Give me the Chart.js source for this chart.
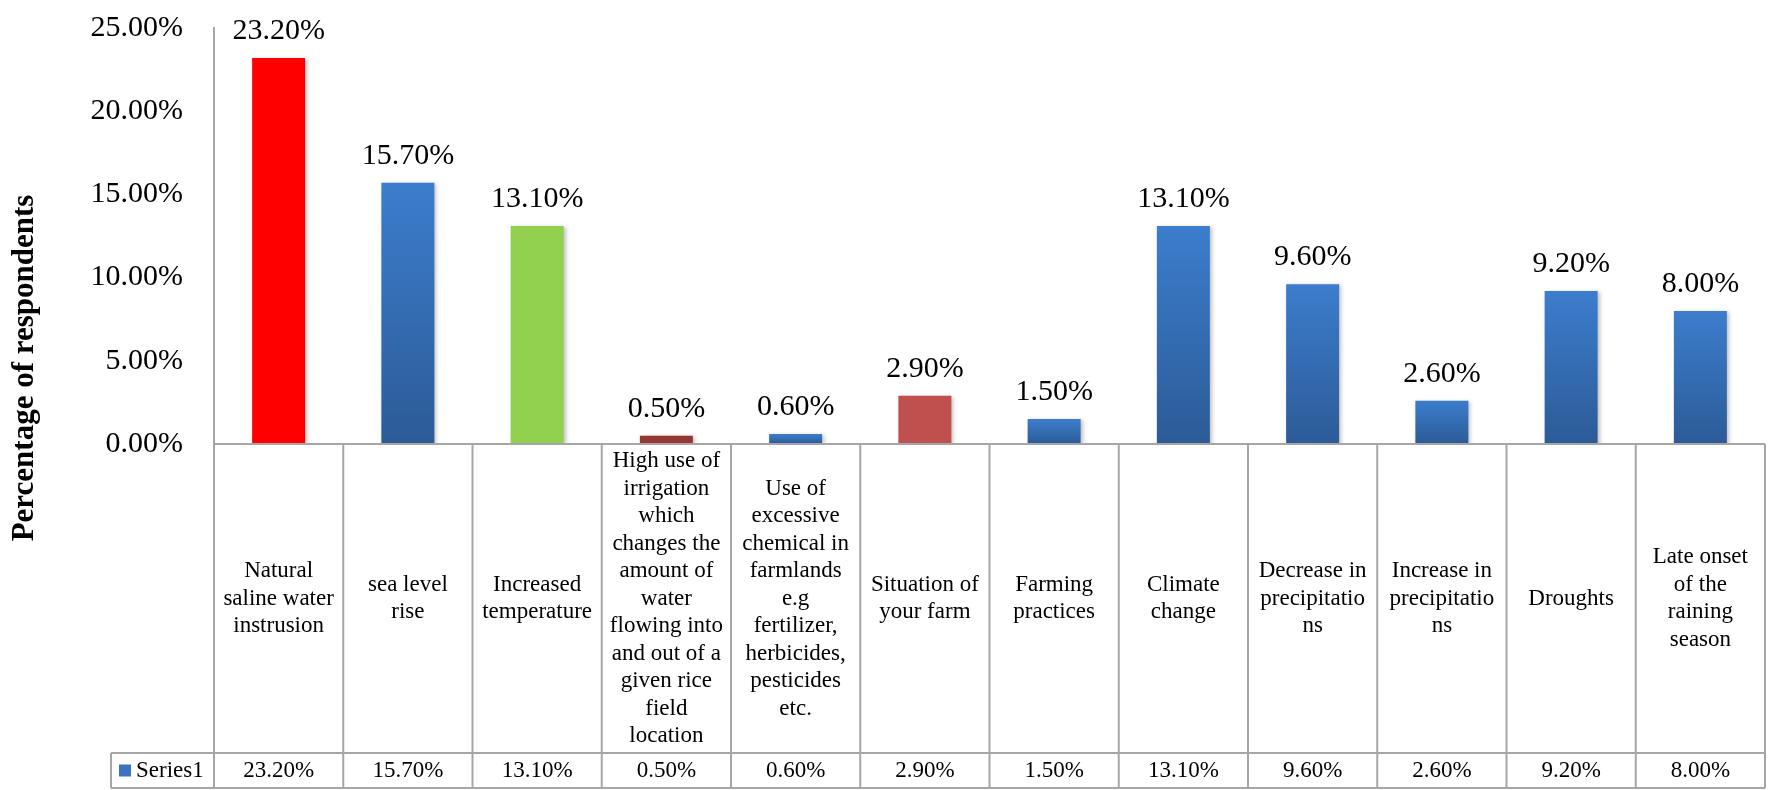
<!DOCTYPE html>
<html>
<head>
<meta charset="utf-8">
<script src="https://cdn.jsdelivr.net/npm/chart.js@4.4.1/dist/chart.umd.min.js"></script>
<style>
  html, body { margin: 0; padding: 0; background: #fff; }
  #wrap { width: 1768px; height: 790px; }
</style>
</head>
<body>
<div id="wrap"><canvas id="chart" width="1768" height="790"></canvas></div>
<script>
// categories, already broken into the lines shown in the table
const categories = [
    ["Natural", "saline water", "instrusion"],
    ["sea level", "rise"],
    ["Increased", "temperature"],
    ["High use of", "irrigation", "which", "changes the", "amount of", "water", "flowing into", "and out of a", "given rice", "field", "location"],
    ["Use of", "excessive", "chemical in", "farmlands", "e.g", "fertilizer,", "herbicides,", "pesticides", "etc."],
    ["Situation of", "your farm"],
    ["Farming", "practices"],
    ["Climate", "change"],
    ["Decrease in", "precipitatio", "ns"],
    ["Increase in", "precipitatio", "ns"],
    ["Droughts"],
    ["Late onset", "of the", "raining", "season"]
];
const values = [23.2, 15.7, 13.1, 0.5, 0.6, 2.9, 1.5, 13.1, 9.6, 2.6, 9.2, 8.0];
const yTicks = [0, 5, 10, 15, 20, 25];
const seriesName = "Series1";
const yTitle = "Percentage of respondents";

// bar fills ("blue" = Excel style gradient)
const barColors = ["#ff0000", "blue", "#92d050", "#953735", "blue", "#c0504d",
    "blue", "blue", "blue", "blue", "blue", "blue"];

const FONT = '"Liberation Serif", "Times New Roman", serif';
const LINE = "#a6a6a6";

function pct(v) {
    return v.toFixed(2) + "%";
}

function barFill(ctx) {
    const c = barColors[ctx.dataIndex];
    if (c !== "blue") return c;
    const chart = ctx.chart;
    const y = chart.scales.y;
    if (!chart.chartArea || !y) return "#3670b8";
    const top = y.getPixelForValue(values[ctx.dataIndex]);
    const bottom = y.getPixelForValue(0);
    const g = chart.ctx.createLinearGradient(0, top, 0, bottom);
    g.addColorStop(0, "#3c7dcd");
    g.addColorStop(1, "#2c5b97");
    return g;
}

// drop shadow on the bars
const shadowPlugin = {
    id: "shadow",
    beforeDatasetsDraw(chart) {
        const c = chart.ctx;
        c.save();
        c.shadowColor = "rgba(0,0,0,0.25)";
        c.shadowBlur = 4;
        c.shadowOffsetX = 2;
        c.shadowOffsetY = 1;
    },
    afterDatasetsDraw(chart) {
        chart.ctx.restore();
    }
};

// value labels above bars, axis title and the data table under the plot
const tablePlugin = {
    id: "table",
    afterDraw(chart) {
        const c = chart.ctx;
        const x = chart.scales.x;
        const y = chart.scales.y;
        const area = chart.chartArea;
        const colW = x.getPixelForValue(1) - x.getPixelForValue(0);
        const rowTop = 753, rowBottom = 788, legendLeft = 111;

        c.save();
        c.fillStyle = "#000";
        c.textAlign = "center";
        c.textBaseline = "middle";

        // axis title
        c.save();
        c.translate(25, 368);
        c.rotate(-Math.PI / 2);
        c.font = "bold 31px " + FONT;
        c.fillText(yTitle, 0, 0);
        c.restore();

        // labels above bars
        c.font = "30px " + FONT;
        values.forEach((v, i) => {
            c.fillText(pct(v), x.getPixelForValue(i), y.getPixelForValue(v) - 27);
        });

        // grid of the table
        c.strokeStyle = LINE;
        c.lineWidth = 2;
        c.beginPath();
        c.moveTo(area.left, area.bottom);
        c.lineTo(area.right, area.bottom);
        c.moveTo(legendLeft, rowTop);
        c.lineTo(area.right, rowTop);
        c.moveTo(legendLeft, rowBottom);
        c.lineTo(area.right, rowBottom);
        c.moveTo(legendLeft, rowTop);
        c.lineTo(legendLeft, rowBottom);
        for (let i = 0; i <= categories.length; i++) {
            const bx = x.getPixelForValue(i) - colW / 2;
            c.moveTo(bx, area.bottom);
            c.lineTo(bx, rowBottom);
        }
        c.stroke();

        // category text
        c.font = "23px " + FONT;
        const mid = (area.bottom + rowTop) / 2;
        const lh = 27.5;
        categories.forEach((lines, i) => {
            const cx = x.getPixelForValue(i);
            const start = mid - (lines.length - 1) * lh / 2;
            lines.forEach((t, j) => c.fillText(t, cx, start + j * lh));
        });

        // value row
        const rowMid = (rowTop + rowBottom) / 2;
        values.forEach((v, i) => c.fillText(pct(v), x.getPixelForValue(i), rowMid));

        // series key
        c.fillStyle = "#3a74c0";
        c.fillRect(119, rowMid - 6, 12, 12);
        c.fillStyle = "#000";
        c.textAlign = "left";
        c.fillText(seriesName, 136, rowMid);
        c.restore();
    }
};

new Chart(document.getElementById("chart"), {
    type: "bar",
    data: {
        labels: categories.map(l => l.join(" ")),
        datasets: [{
            label: seriesName,
            data: values,
            backgroundColor: barFill,
            borderWidth: 0,
            categoryPercentage: 1,
            barPercentage: 0.41
        }]
    },
    options: {
        responsive: false,
        animation: false,
        layout: { padding: { left: 0, top: 28, right: 3, bottom: 346 } },
        plugins: {
            legend: { display: false },
            tooltip: { enabled: false }
        },
        scales: {
            x: { display: false },
            y: {
                min: 0,
                max: 25,
                afterBuildTicks: s => { s.ticks = yTicks.map(v => ({ value: v })); },
                afterFit: s => { s.width = 214; },
                // invisible tick marks only push the labels away from the axis
                grid: {
                    display: true,
                    drawOnChartArea: false,
                    drawTicks: true,
                    tickLength: 27,
                    color: "rgba(0,0,0,0)",
                    tickColor: "rgba(0,0,0,0)"
                },
                border: { display: true, color: LINE, width: 2 },
                ticks: {
                    color: "#000",
                    padding: 4,
                    font: { family: FONT, size: 30 },
                    callback: v => pct(v)
                }
            }
        }
    },
    plugins: [shadowPlugin, tablePlugin]
});
</script>
</body>
</html>
